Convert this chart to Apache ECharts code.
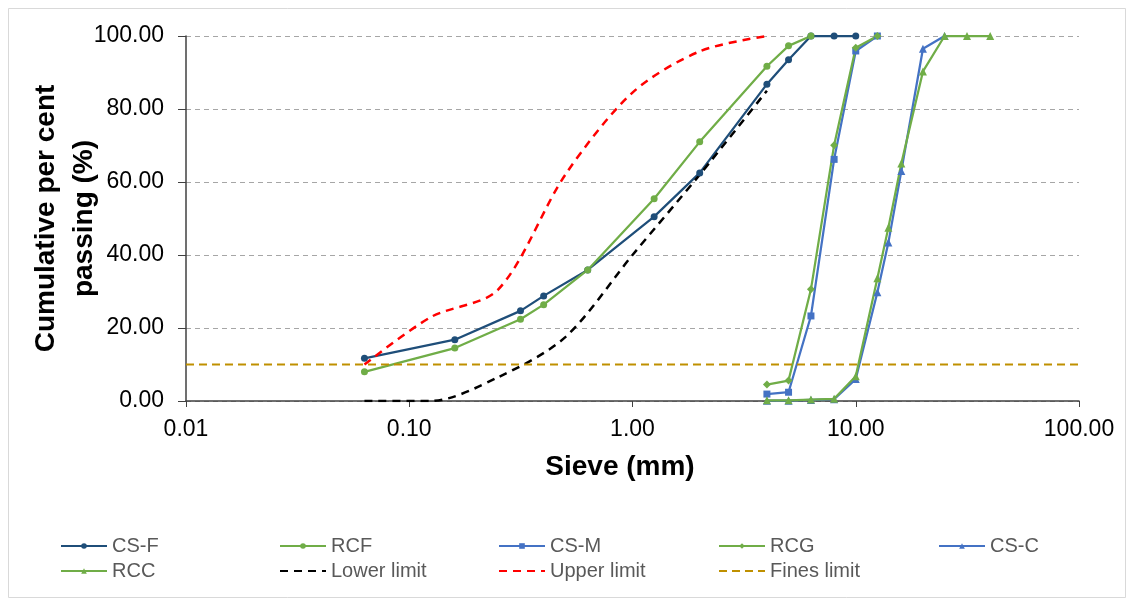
<!DOCTYPE html>
<html>
<head>
<meta charset="utf-8">
<script src="https://cdn.jsdelivr.net/npm/echarts@6/dist/echarts.min.js"></script>
<style>
html,body{margin:0;padding:0;background:#fff;}
#chart{width:1134px;height:603px;}
</style>
</head>
<body>
<div id="chart"></div>
<script>
// ---- data ----
const sieveCSF = [0.063, 0.16, 0.315, 0.4, 0.63, 1.25, 2, 4, 5, 6.3, 8, 10];
const csF      = [11.7, 16.8, 24.7, 28.8, 35.9, 50.5, 62.5, 86.8, 93.5, 100, 100, 100];
const sieveRCF = [0.063, 0.16, 0.315, 0.4, 0.63, 1.25, 2, 4, 5, 6.3];
const rcF      = [8.0, 14.5, 22.4, 26.4, 35.9, 55.4, 71.0, 91.7, 97.3, 100];
const sieveMed = [4, 5, 6.3, 8, 10, 12.5];
const csM      = [1.9, 2.4, 23.3, 66.2, 95.9, 100];
const rcG      = [4.5, 5.6, 30.6, 70.1, 96.8, 100];
const sieveCSC = [4, 5, 6.3, 8, 10, 12.5, 14, 16, 20, 25];
const csC      = [0.1, 0.1, 0.3, 0.5, 6.0, 29.8, 43.4, 63.0, 96.5, 100];
const sieveRCC = [4, 5, 6.3, 8, 10, 12.5, 14, 16, 20, 25, 31.5, 40];
const rcC      = [0.2, 0.2, 0.4, 0.6, 6.8, 33.6, 47.5, 65.1, 90.3, 100, 100, 100];
const sieveLim = [0.063, 0.125, 0.25, 0.5, 1, 2, 4];
const lowerLim = [0, 0, 6.5, 17.5, 40, 62, 85];
const upperLim = [10, 23, 30.5, 62, 84.5, 95.8, 100];
const sieveFines = [0.01, 100];
const finesLim   = [10, 10];
const seriesNames = ['CS-F', 'RCF', 'CS-M', 'RCG', 'CS-C', 'RCC', 'Lower limit', 'Upper limit', 'Fines limit'];
const xTicks = [0.01, 0.1, 1, 10, 100];

// ---- chart ----
const FONT = "'Liberation Sans', Arial, sans-serif";
const pairs = (xs, ys) => xs.map((x, i) => [x, ys[i]]);
const DARK = '#1F4E79', GREEN = '#70AD47', BLUE = '#4472C4';

function dataSeries(name, xs, ys, color, symbol, size) {
  return {
    name, type: 'line', data: pairs(xs, ys),
    symbol, symbolSize: size, showSymbol: true,
    lineStyle: { color, width: 2.25 },
    itemStyle: { color, borderWidth: 0 },
    emphasis: { disabled: true }, animation: false
  };
}
function limitSeries(name, xs, ys, color, width, dash, smooth) {
  return {
    name, type: 'line', data: pairs(xs, ys), symbol: 'none', showSymbol: false,
    smooth: smooth,
    lineStyle: { color, width, type: dash },
    itemStyle: { color },
    emphasis: { disabled: true }, animation: false
  };
}

const cols = [60, 279, 498, 718, 938];
const legends = seriesNames.map((n, i) => {
  const isLimit = i >= 6;
  const lg = {
    data: [n],
    left: cols[i % 5],
    top: i < 5 ? 536 : 561,
    padding: 0,
    itemWidth: 46, itemHeight: 7, itemGap: 0,
    textStyle: { fontFamily: FONT, fontSize: 20, color: '#595959' },
    selectedMode: false
  };
  if (isLimit) lg.itemStyle = { color: 'rgba(0,0,0,0)', borderWidth: 0 };
  return lg;
});

const option = {
  animation: false,
  backgroundColor: '#fff',
  textStyle: { fontFamily: FONT },
  graphic: [{
    type: 'rect', shape: { x: 8.5, y: 8.5, width: 1117, height: 589 },
    style: { fill: 'none', stroke: '#D9D9D9', lineWidth: 1 }, silent: true, z: -10
  }],
  legend: legends,
  grid: { left: 186, right: 55, top: 36, bottom: 202, containLabel: false },
  xAxis: {
    type: 'log', logBase: 10, min: xTicks[0], max: xTicks[xTicks.length - 1],
    name: 'Sieve (mm)', nameLocation: 'middle', nameGap: 52,
    nameTextStyle: { fontFamily: FONT, fontSize: 28, fontWeight: 'bold', color: '#000', padding: [0, 25, 0, 0] },
    axisLine: { show: true, lineStyle: { color: '#404040', width: 1.5 } },
    axisTick: { show: true, inside: false, length: 6, lineStyle: { color: '#404040' } },
    minorTick: { show: false },
    splitLine: { show: false },
    axisLabel: { fontFamily: FONT, fontSize: 23, color: '#000', margin: 17,
      formatter: v => Number(v).toFixed(2) }
  },
  yAxis: {
    type: 'value', min: 0, max: 100, interval: 20,
    name: 'Cumulative per cent\npassing (%)', nameLocation: 'middle', nameGap: 83,
    nameMoveOverlap: false,
    nameTextStyle: { fontFamily: FONT, fontSize: 28, fontWeight: 'bold', color: '#000', lineHeight: 38 },
    axisLine: { show: true, lineStyle: { color: '#404040', width: 1.5 } },
    axisTick: { show: true, inside: false, length: 8, lineStyle: { color: '#404040' } },
    splitLine: { show: true, lineStyle: { color: '#A6A6A6', width: 1, type: [5, 4] } },
    axisLabel: { fontFamily: FONT, fontSize: 23, color: '#000', margin: 22,
      formatter: v => Number(v).toFixed(2) }
  },
  series: [
    dataSeries('CS-F', sieveCSF, csF, DARK, 'circle', 7),
    dataSeries('RCF', sieveRCF, rcF, GREEN, 'circle', 7),
    dataSeries('CS-M', sieveMed, csM, BLUE, 'rect', 7),
    dataSeries('RCG', sieveMed, rcG, GREEN, 'diamond', 8),
    dataSeries('CS-C', sieveCSC, csC, BLUE, 'triangle', 8),
    dataSeries('RCC', sieveRCC, rcC, GREEN, 'triangle', 8),
    limitSeries('Lower limit', sieveLim, lowerLim, '#000000', 2.5, [8, 6], 0.3),
    limitSeries('Upper limit', sieveLim, upperLim, '#FF0000', 2.5, [8, 6], 0.3),
    limitSeries('Fines limit', sieveFines, finesLim, '#BF9000', 2, [8, 5], false)
  ]
};

const chart = echarts.init(document.getElementById('chart'), null, { renderer: 'canvas' });
chart.setOption(option);
</script>
</body>
</html>
